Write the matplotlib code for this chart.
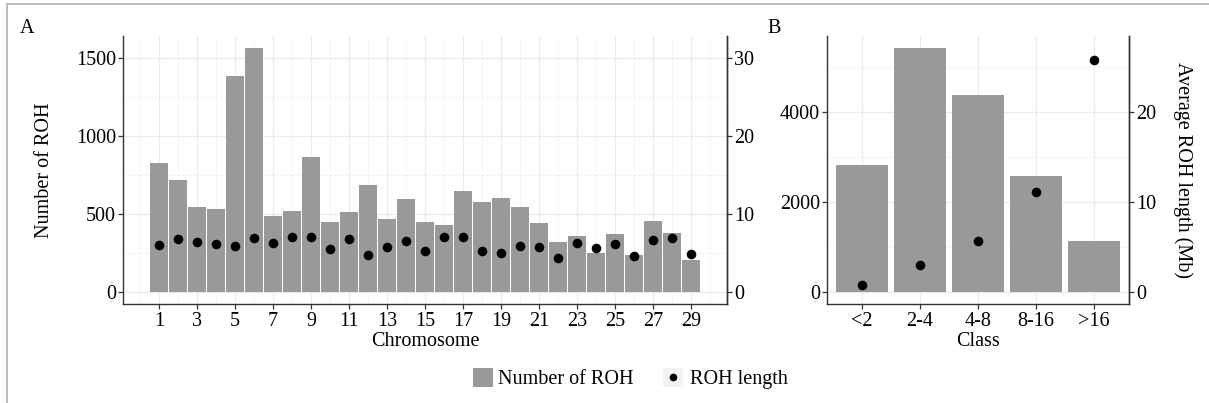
import matplotlib
matplotlib.use("Agg")
import matplotlib.pyplot as plt
from matplotlib.lines import Line2D
from matplotlib.patches import Rectangle
import numpy as np

plt.rcParams['font.family'] = ['Liberation Serif', 'DejaVu Serif']

# ---------------- data ----------------
chromosomes = list(range(1, 30))
roh_count = [823, 717, 545, 532, 1383, 1562, 483, 521, 864, 447,
             509, 683, 464, 594, 445, 428, 645, 577, 602, 545,
             440, 317, 355, 249, 372, 238, 457, 377, 204]
roh_length = [6.04, 6.81, 6.34, 6.13, 5.91, 6.89, 6.30, 6.98, 7.02, 5.45,
              6.77, 4.72, 5.74, 6.47, 5.23, 7.06, 7.02, 5.19, 4.98, 5.83,
              5.79, 4.30, 6.26, 5.57, 6.13, 4.55, 6.68, 6.85, 4.89]
chrom_ticks = list(range(1, 30, 2))

classes = ["<2", "2-4", "4-8", "8-16", ">16"]
class_count = [2819, 5417, 4369, 2576, 1122]
class_length = [0.74, 2.93, 5.63, 11.07, 25.74]

ticksA_left = [0, 500, 1000, 1500]
ticksA_right = [0, 10, 20, 30]
ticksB_left = [0, 2000, 4000]
ticksB_right = [0, 10, 20]
scaleA = 50
scaleB = 200

# ---------------- styling ----------------
W, H = 1209, 403
FS = 14.5
BAR = '#999999'
SPINE = '#333333'
GRID = '#ebebeb'

fig = plt.figure(figsize=(W / 100, H / 100), dpi=100)


def fbox(l, r, t, b):
    return [l / W, 1 - b / H, (r - l) / W, (b - t) / H]


def style(ax, right=False):
    for s in ['top']:
        ax.spines[s].set_visible(False)
    for s in ['left', 'bottom', 'right']:
        ax.spines[s].set_color(SPINE)
        ax.spines[s].set_linewidth(1.0)
    ax.tick_params(axis='both', which='major', length=3.5, width=0.9,
                   color=SPINE, labelsize=FS, labelcolor='black', pad=1.5)
    ax.tick_params(axis='both', which='minor', length=0)


def expand(vmin, vmax, f=0.05):
    d = (vmax - vmin) * f
    return vmin - d, vmax + d


# ---------------- panel A ----------------
axA = fig.add_axes(fbox(123, 727, 36, 304))
x = np.array(chromosomes)
axA.set_axisbelow(True)
axA.bar(x, roh_count, width=0.9, color=BAR, edgecolor='none', zorder=2)
axA.set_xlim(*expand(x.min() - 0.45, x.max() + 0.45))
ylA = expand(0, max(max(roh_count), max(roh_length) * scaleA))
axA.set_ylim(*ylA)
axA.set_xticks(chrom_ticks)
axA.set_xticks([c - 1 for c in chrom_ticks] + [chrom_ticks[-1] + 1], minor=True)
axA.set_yticks(ticksA_left)
axA.set_yticks([t + 250 for t in ticksA_left[:-1]], minor=True)
axA.grid(True, which='major', color=GRID, lw=0.9)
axA.grid(True, which='minor', color='#f4f4f4', lw=0.6)
style(axA)
axA.spines['right'].set_visible(True)
axA.tick_params(axis='x', pad=2.5)
axA.set_ylabel("Number of ROH", fontsize=FS, labelpad=15.5)
axA.set_xlabel("Chromosome", fontsize=FS, labelpad=0.5)

axA2 = axA.twinx()
axA2.set_ylim(ylA[0] / scaleA, ylA[1] / scaleA)
axA2.scatter(x, roh_length, s=48, color='black', zorder=3, linewidths=0)
axA2.set_yticks(ticksA_right)
style(axA2)
axA2.spines['left'].set_visible(False)
axA2.spines['bottom'].set_visible(False)

# ---------------- panel B ----------------
axB = fig.add_axes(fbox(827, 1129, 36, 304))
xb = np.arange(1, len(classes) + 1)
axB.set_axisbelow(True)
axB.bar(xb, class_count, width=0.9, color=BAR, edgecolor='none', zorder=2)
axB.set_xlim(0.4, len(classes) + 0.6)
ylB = expand(0, max(max(class_count), max(class_length) * scaleB))
axB.set_ylim(*ylB)
axB.set_xticks(xb)
axB.set_xticklabels(classes)
axB.set_yticks(ticksB_left)
axB.set_yticks([t + 1000 for t in ticksB_left], minor=True)
axB.grid(True, which='major', color=GRID, lw=0.9)
axB.grid(True, which='minor', color='#f4f4f4', lw=0.6)
style(axB)
axB.tick_params(axis='x', pad=2.5)
axB.set_xlabel("Class", fontsize=FS, labelpad=0.5)

axB2 = axB.twinx()
axB2.set_ylim(ylB[0] / scaleB, ylB[1] / scaleB)
axB2.scatter(xb, class_length, s=48, color='black', zorder=3, linewidths=0)
axB2.set_yticks(ticksB_right)
style(axB2)
axB2.spines['left'].set_visible(False)
axB2.spines['bottom'].set_visible(False)
axB2.set_ylabel("Average ROH length (Mb)", fontsize=FS, rotation=270,
                labelpad=26.5)

# ---------------- panel tags ----------------
fig.text(20 / W, 1 - 33 / H, "A", fontsize=FS, va='baseline', ha='left')
fig.text(767 / W, 1 - 33 / H, "B", fontsize=FS, va='baseline', ha='left')

# ---------------- legend (manual) ----------------
ly = 377
fig.patches.append(Rectangle((472.5 / W, 1 - 387 / H), 20 / W, 19.5 / H,
                             transform=fig.transFigure, color=BAR, lw=0))
fig.text(498 / W, 1 - ly / H, "Number of ROH", fontsize=FS, va='center_baseline',
         ha='left')
fig.patches.append(Rectangle((663 / W, 1 - 387 / H), 20 / W, 19.5 / H,
                             transform=fig.transFigure, color='#f2f2f2', lw=0))
fig.add_artist(Line2D([673 / W], [1 - ly / H], marker='o', markersize=4.5,
                      color='black', lw=0, transform=fig.transFigure))
fig.text(690 / W, 1 - ly / H, "ROH length", fontsize=FS, va='center_baseline',
         ha='left')

# ---------------- outer frame ----------------
fig.add_artist(Line2D([6.5 / W, 1], [1 - 4 / H, 1 - 4 / H], color='#b8b8b8',
                      lw=1.3, transform=fig.transFigure))
fig.add_artist(Line2D([6.5 / W, 6.5 / W], [0, 1 - 4 / H], color='#b8b8b8',
                      lw=1.3, transform=fig.transFigure))

fig.savefig("out.png", dpi=100)
